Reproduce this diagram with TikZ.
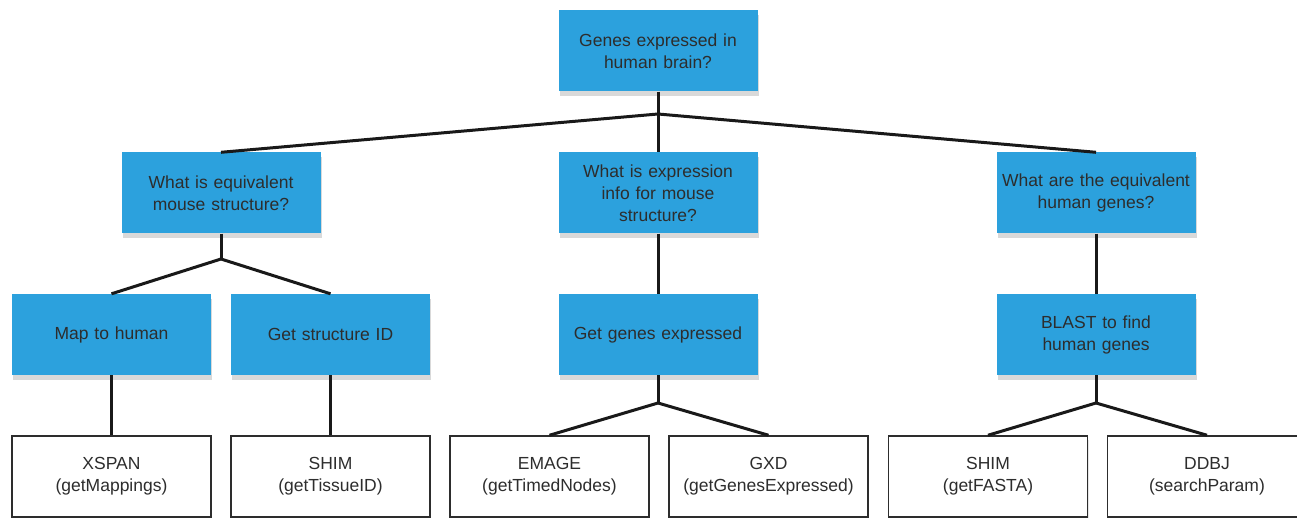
\documentclass[tikz,border=0pt]{standalone}
\usepackage{fontspec}
\setmainfont{Liberation Sans}
\usetikzlibrary{shadows}
\definecolor{boxblue}{RGB}{44,161,221}
\definecolor{inkgray}{RGB}{45,45,45}
\begin{document}
\begin{tikzpicture}[x=1pt,y=-1pt,
	question/.style={fill=boxblue, minimum width=199pt, minimum height=81pt, inner sep=0pt,
		text width=190pt, align=center, text=inkgray,
		drop shadow={shadow xshift=1pt, shadow yshift=-5pt, opacity=0.3}},
	tool/.style={fill=white, draw=inkgray, line width=1.5pt, minimum width=199pt, minimum height=81pt,
		inner sep=0pt, text width=190pt, align=center, text=inkgray,
		drop shadow={shadow xshift=1pt, shadow yshift=-4pt, opacity=0.2}},
	link/.style={line width=3pt, draw=black!90},
	font=\fontsize{17.5}{22}\selectfont]
	\useasboundingbox (0,0) rectangle (1297,518);
	\clip (0,0) rectangle (1297,518);
	% junction points
	\coordinate (top) at (658,114);
	\coordinate (mouse) at (221,259);
	\coordinate (expr) at (658,403);
	\coordinate (blastj) at (1096,403);
	% questions
	\node[question] (root) at (658,51) {Genes expressed in\\human brain?};
	\node[question] (equiv) at (221,193) {What is equivalent\\mouse structure?};
	\node[question] (info) at (658,193) {What is expression\\info for mouse\\structure?};
	\node[question] (human) at (1096,193) {What are the equivalent\\human genes?};
	\node[question] (map) at (111.5,334.5) {Map to human};
	\node[question] (struct) at (330.5,334.5) {Get structure ID};
	\node[question] (genes) at (658,334.5) {Get genes expressed};
	\node[question] (blast) at (1096,334.5) {BLAST to find\\human genes};
	% tools
	\node[tool] (xspan) at (111.5,476.5) {XSPAN\\(getMappings)};
	\node[tool] (shim) at (330.5,476.5) {SHIM\\(getTissueID)};
	\node[tool] (emage) at (549.5,476.5) {EMAGE\\(getTimedNodes)};
	\node[tool] (gxd) at (768.5,476.5) {GXD\\(getGenesExpressed)};
	\node[tool] (fasta) at (988,476.5) {SHIM\\(getFASTA)};
	\node[tool] (ddbj) at (1207,476.5) {DDBJ\\(searchParam)};
	% links
	\draw[link] (root.south) -- (top);
	\draw[link] (top) -- (equiv.north);
	\draw[link] (top) -- (info.north);
	\draw[link] (top) -- (human.north);
	\draw[link] (equiv.south) -- (mouse);
	\draw[link] (mouse) -- (map.north);
	\draw[link] (mouse) -- (struct.north);
	\draw[link] (info.south) -- (genes.north);
	\draw[link] (human.south) -- (blast.north);
	\draw[link] (map.south) -- (xspan.north);
	\draw[link] (struct.south) -- (shim.north);
	\draw[link] (genes.south) -- (expr);
	\draw[link] (expr) -- (emage.north);
	\draw[link] (expr) -- (gxd.north);
	\draw[link] (blast.south) -- (blastj);
	\draw[link] (blastj) -- (fasta.north);
	\draw[link] (blastj) -- (ddbj.north);
\end{tikzpicture}
\end{document}
